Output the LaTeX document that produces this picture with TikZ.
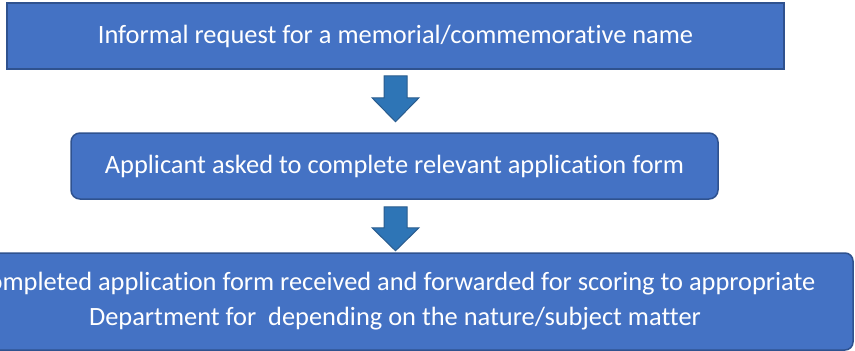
\documentclass[tikz,border=0pt]{standalone}
\usepackage{fontspec}
\setmainfont{Carlito}[Ligatures=CommonOff]
\usetikzlibrary{calc}
\definecolor{boxfill}{HTML}{4472C4}
\definecolor{boxline}{HTML}{2F528F}
\definecolor{arrfill}{HTML}{2E75B6}
\definecolor{arrline}{HTML}{2A5C8E}
\tikzset{
  stepbox/.style={fill=boxfill, draw=boxline, line width=1.5pt, text=white,
    font=\fontsize{26.4}{35}\selectfont, align=center, inner sep=0pt},
  blockarrow/.style={fill=arrfill, draw=arrline, line width=1pt, line join=miter}
}
\newcommand{\downblock}[3]{% #1 top coord name, #2 shaft length, #3 total length
  \draw[blockarrow] ($(#1)+(-11.5,0)$) -- ($(#1)+(11.5,0)$) -- ($(#1)+(11.5,#2)$)
    -- ($(#1)+(23.5,#2)$) -- ($(#1)+(0,#3)$) -- ($(#1)+(-23.5,#2)$)
    -- ($(#1)+(-11.5,#2)$) -- cycle;}
\begin{document}
\begin{tikzpicture}[x=1pt,y=-1pt]
\useasboundingbox[fill=white] (0,0) rectangle (855,351);
\node[stepbox, minimum width=777pt, minimum height=66pt] (top) at (395.5,36)
  {\raisebox{2pt}{Informal request for a memorial/commemorative name}};
\node[stepbox, rounded corners=9pt, minimum width=647pt, minimum height=66pt] (mid) at (394.5,166)
  {Applicant asked to complete relevant application form};
\node[stepbox, rounded corners=8pt, minimum width=916pt, minimum height=97pt] (bot) at (395,301.5)
  {Completed application form received and forwarded for scoring to appropriate\\
   Department for\ \ depending on the nature/subject matter};
\coordinate (a1) at ($(top.south)+(0,6)$);
\coordinate (a2) at ($(mid.south)+(1,7)$);
\downblock{a1}{22}{46}
\downblock{a2}{21}{44}
\end{tikzpicture}
\end{document}
